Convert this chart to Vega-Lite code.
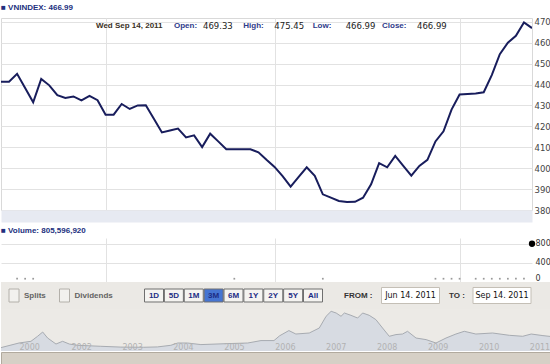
{
  "$schema": "https://vega.github.io/schema/vega-lite/v6.json",
  "background": "white",
  "padding": {"left": 0, "top": 3, "right": 0, "bottom": 0},
  "config": {"view": {"stroke": null}, "font": "DejaVu Sans", "axis": {"labelOverlap": false}},
  "datasets": {
    "prices": [
      {"date": "2011-06-13", "close": 441.3}, {"date": "2011-06-14", "close": 441.3}, {"date": "2011-06-15", "close": 445.1},
      {"date": "2011-06-16", "close": 438.3}, {"date": "2011-06-17", "close": 431.5}, {"date": "2011-06-20", "close": 442.7},
      {"date": "2011-06-21", "close": 439.6}, {"date": "2011-06-22", "close": 434.9}, {"date": "2011-06-23", "close": 433.6},
      {"date": "2011-06-24", "close": 434.3}, {"date": "2011-06-27", "close": 432.4}, {"date": "2011-06-28", "close": 434.6},
      {"date": "2011-06-29", "close": 432.5}, {"date": "2011-06-30", "close": 425.6}, {"date": "2011-07-01", "close": 425.6},
      {"date": "2011-07-04", "close": 430.7}, {"date": "2011-07-05", "close": 428.3}, {"date": "2011-07-06", "close": 430.0},
      {"date": "2011-07-07", "close": 430.1}, {"date": "2011-07-08", "close": 423.6}, {"date": "2011-07-11", "close": 417.1},
      {"date": "2011-07-12", "close": 418.0}, {"date": "2011-07-13", "close": 418.9}, {"date": "2011-07-14", "close": 414.7},
      {"date": "2011-07-15", "close": 415.7}, {"date": "2011-07-18", "close": 410.1}, {"date": "2011-07-19", "close": 416.5},
      {"date": "2011-07-20", "close": 412.8}, {"date": "2011-07-21", "close": 409.1}, {"date": "2011-07-22", "close": 409.1},
      {"date": "2011-07-25", "close": 409.1}, {"date": "2011-07-26", "close": 409.0}, {"date": "2011-07-27", "close": 407.6},
      {"date": "2011-07-28", "close": 404.0}, {"date": "2011-07-29", "close": 400.6}, {"date": "2011-08-01", "close": 396.2},
      {"date": "2011-08-02", "close": 391.2}, {"date": "2011-08-03", "close": 395.8}, {"date": "2011-08-04", "close": 400.4},
      {"date": "2011-08-05", "close": 396.3}, {"date": "2011-08-08", "close": 387.5}, {"date": "2011-08-09", "close": 385.9},
      {"date": "2011-08-10", "close": 384.3}, {"date": "2011-08-11", "close": 383.8}, {"date": "2011-08-12", "close": 383.9},
      {"date": "2011-08-15", "close": 385.9}, {"date": "2011-08-16", "close": 392.3}, {"date": "2011-08-17", "close": 402.4},
      {"date": "2011-08-18", "close": 400.4}, {"date": "2011-08-19", "close": 405.9}, {"date": "2011-08-22", "close": 401.1},
      {"date": "2011-08-23", "close": 396.4}, {"date": "2011-08-24", "close": 401.1}, {"date": "2011-08-25", "close": 404.0},
      {"date": "2011-08-26", "close": 412.8}, {"date": "2011-08-29", "close": 417.6}, {"date": "2011-08-30", "close": 428.0},
      {"date": "2011-08-31", "close": 435.2}, {"date": "2011-09-01", "close": 435.5}, {"date": "2011-09-05", "close": 435.7},
      {"date": "2011-09-06", "close": 436.3}, {"date": "2011-09-07", "close": 444.5}, {"date": "2011-09-08", "close": 454.5},
      {"date": "2011-09-09", "close": 460.0}, {"date": "2011-09-12", "close": 463.3}, {"date": "2011-09-13", "close": 469.7},
      {"date": "2011-09-14", "close": 466.99}
    ],
    "vol": [
      {"date": "2011-06-15", "volume": 69000000}, {"date": "2011-06-16", "volume": 69000000}, {"date": "2011-06-17", "volume": 69000000},
      {"date": "2011-07-22", "volume": 69000000}, {"date": "2011-08-08", "volume": 69000000},
      {"date": "2011-08-26", "volume": 69000000}, {"date": "2011-08-29", "volume": 69000000}, {"date": "2011-08-30", "volume": 69000000},
      {"date": "2011-08-31", "volume": 69000000}, {"date": "2011-09-05", "volume": 69000000}, {"date": "2011-09-06", "volume": 69000000},
      {"date": "2011-09-07", "volume": 69000000}, {"date": "2011-09-08", "volume": 69000000}, {"date": "2011-09-09", "volume": 69000000},
      {"date": "2011-09-12", "volume": 69000000}, {"date": "2011-09-13", "volume": 69000000},
      {"date": "2011-09-14", "volume": 805596920}
    ],
    "info": [
      {"k": "date", "label": "Wed Sep 14, 2011", "val": ""},
      {"k": "Open", "label": "Open:", "val": "469.33"},
      {"k": "High", "label": "High:", "val": "475.45"},
      {"k": "Low", "label": "Low:", "val": "466.99"},
      {"k": "Close", "label": "Close:", "val": "466.99"}
    ],
    "checks": [{"name": "Splits"}, {"name": "Dividends"}],
    "buttons": [
      {"b": "1D", "on": false}, {"b": "5D", "on": false}, {"b": "1M", "on": false}, {"b": "3M", "on": true},
      {"b": "6M", "on": false}, {"b": "1Y", "on": false}, {"b": "2Y", "on": false}, {"b": "5Y", "on": false}, {"b": "All", "on": false}
    ],
    "rangeLabels": [{"t": "FROM :"}, {"t": "TO :"}],
    "rangeDates": [{"d": "Jun 14. 2011"}, {"d": "Sep 14. 2011"}],
    "history": [
      {"date": "2000-07-28", "index": 100}, {"date": "2000-12-13", "index": 236}, {"date": "2001-03-15", "index": 286},
      {"date": "2001-05-05", "index": 434}, {"date": "2001-06-13", "index": 560}, {"date": "2001-07-21", "index": 383},
      {"date": "2001-09-23", "index": 206}, {"date": "2001-11-13", "index": 286}, {"date": "2002-01-03", "index": 206},
      {"date": "2002-03-03", "index": 168}, {"date": "2002-08-17", "index": 139}, {"date": "2003-01-08", "index": 115},
      {"date": "2003-06-21", "index": 110}, {"date": "2003-09-27", "index": 120}, {"date": "2004-01-01", "index": 168},
      {"date": "2004-02-20", "index": 236}, {"date": "2004-04-29", "index": 236}, {"date": "2004-08-04", "index": 189},
      {"date": "2005-02-14", "index": 218}, {"date": "2005-07-06", "index": 236}, {"date": "2005-10-09", "index": 307},
      {"date": "2006-01-10", "index": 307}, {"date": "2006-02-20", "index": 450}, {"date": "2006-04-27", "index": 602},
      {"date": "2006-06-16", "index": 501}, {"date": "2006-09-20", "index": 531}, {"date": "2006-12-01", "index": 678},
      {"date": "2007-01-19", "index": 1024}, {"date": "2007-02-24", "index": 1171}, {"date": "2007-04-01", "index": 1121},
      {"date": "2007-05-06", "index": 1024}, {"date": "2007-05-30", "index": 1121}, {"date": "2007-07-16", "index": 1053},
      {"date": "2007-09-02", "index": 973}, {"date": "2007-10-08", "index": 1121}, {"date": "2007-11-24", "index": 1053},
      {"date": "2008-01-11", "index": 926}, {"date": "2008-02-28", "index": 678}, {"date": "2008-04-16", "index": 434},
      {"date": "2008-06-03", "index": 484}, {"date": "2008-07-20", "index": 501}, {"date": "2008-08-25", "index": 581},
      {"date": "2008-10-25", "index": 383}, {"date": "2009-01-05", "index": 336}, {"date": "2009-03-17", "index": 236},
      {"date": "2009-05-28", "index": 383}, {"date": "2009-08-07", "index": 501}, {"date": "2009-10-06", "index": 581},
      {"date": "2009-12-28", "index": 501}, {"date": "2010-04-27", "index": 531}, {"date": "2010-08-25", "index": 463},
      {"date": "2010-11-29", "index": 434}, {"date": "2011-01-29", "index": 501}, {"date": "2011-04-23", "index": 454},
      {"date": "2011-06-14", "index": 430}, {"date": "2011-09-14", "index": 467}
    ]
  },
  "spacing": 5,
  "vconcat": [
    {
      "width": 531,
      "height": 192,
      "title": {"text": "■ VNINDEX: 466.99", "anchor": "start", "font": "Liberation Sans", "fontSize": 8, "fontWeight": "bold", "color": "#22307e", "offset": 6},
      "view": {"stroke": "#d9d9d9"},
      "layer": [
        {
          "data": {"name": "prices"},
          "mark": {"type": "line", "color": "#181d5c", "strokeWidth": 2, "clip": true},
          "encoding": {
            "x": {
              "field": "date", "type": "ordinal", "scale": {"type": "point", "padding": 0},
              "axis": {
                "values": ["2011-07-01", "2011-08-01", "2011-09-01"],
                "labelExpr": "datum.value == '2011-07-01' ? '2011' : datum.value == '2011-08-01' ? 'Aug' : 'Sep'",
                "grid": true, "gridColor": "#e2e2e2", "ticks": false, "tickSize": 0,
                "domain": true, "domainColor": "#e7eaf2", "domainWidth": 12, "offset": 6,
                "tickOffset": -7.5, "labelAlign": "left", "labelBaseline": "middle", "labelPadding": 1.5, "labelOffset": 1,
                "labelAngle": 0, "labelFont": "DejaVu Sans", "labelFontSize": 7.5, "labelFontWeight": "bold", "labelColor": "#333333",
                "labelOverlap": false, "title": null
              }
            },
            "y": {
              "field": "close", "type": "quantitative", "scale": {"domain": [380, 471.8], "nice": false, "zero": false},
              "axis": {
                "orient": "right", "values": [380, 390, 400, 410, 420, 430, 440, 450, 460, 470], "tickCount": 20,
                "grid": true, "gridColor": "#e2e2e2", "ticks": false, "domain": false, "labelPadding": 2,
                "labelOverlap": false, "labelBound": false,
                "labelFont": "DejaVu Sans", "labelFontSize": 8.5, "labelColor": "#444444", "title": null
              }
            }
          }
        },
        {
          "data": {"name": "info"},
          "transform": [{"filter": "datum.k == 'date'"}],
          "mark": {"type": "text", "align": "left", "baseline": "middle", "font": "Liberation Sans", "fontSize": 8, "fontWeight": "bold", "color": "#3a3024"},
          "encoding": {
            "x": {"field": "k", "type": "nominal", "scale": {"type": "point", "padding": 0, "range": [95, 95]}, "axis": null},
            "y": {"datum": 468.2},
            "text": {"field": "label"}
          }
        },
        {
          "data": {"name": "info"},
          "transform": [{"filter": "datum.k != 'date'"}],
          "mark": {"type": "text", "align": "left", "baseline": "middle", "font": "Liberation Sans", "fontSize": 8, "fontWeight": "bold", "color": "#2e3b8a"},
          "encoding": {
            "x": {"field": "k", "type": "nominal", "sort": null, "scale": {"type": "point", "padding": 0, "range": [173, 381]}, "axis": null},
            "y": {"datum": 468.2},
            "text": {"field": "label"}
          }
        },
        {
          "data": {"name": "info"},
          "transform": [{"filter": "datum.k != 'date'"}],
          "mark": {"type": "text", "align": "left", "baseline": "middle", "font": "DejaVu Sans", "fontSize": 8.5, "color": "#222222"},
          "encoding": {
            "x": {"field": "k", "type": "nominal", "sort": null, "scale": {"type": "point", "padding": 0, "range": [202, 416]}, "axis": null},
            "y": {"datum": 468.2},
            "text": {"field": "val"}
          }
        }
      ],
      "resolve": {"scale": {"x": "independent"}}
    },
    {
      "spacing": 0,
      "vconcat": [
        {
          "width": 531,
          "height": 44,
          "title": {"text": "■ Volume: 805,596,920", "anchor": "start", "font": "Liberation Sans", "fontSize": 8, "fontWeight": "bold", "color": "#22307e", "offset": 3},
          "layer": [
            {
              "data": {"name": "prices"},
              "mark": {"type": "rule", "opacity": 0},
              "encoding": {
                "x": {
                  "field": "date", "type": "ordinal", "scale": {"type": "point", "padding": 0},
                  "axis": {
                    "values": ["2011-07-01", "2011-08-01", "2011-09-01"], "grid": true, "gridColor": "#e2e2e2",
                    "labels": false, "ticks": false, "domain": false, "tickOffset": -7.5, "title": null
                  }
                }
              }
            },
            {
              "data": {"name": "vol"},
              "transform": [{"filter": "datum.volume < 500000000"}],
              "mark": {"type": "square", "size": 3, "color": "#9a9a9a", "opacity": 1},
              "encoding": {
                "x": {"field": "date", "type": "ordinal"},
                "y": {
                  "field": "volume", "type": "quantitative", "scale": {"domain": [0, 926000000], "nice": false},
                  "axis": {
                    "orient": "right", "values": [0, 400000000, 800000000], "tickCount": 10, "labelExpr": "format(datum.value / 1000000, 'd')",
                    "grid": true, "gridColor": "#e2e2e2", "ticks": false, "domain": false, "labelFlush": true, "labelPadding": 3,
                    "labelOverlap": false, "labelBound": false,
                    "labelFont": "DejaVu Sans", "labelFontSize": 8, "labelColor": "#333333", "title": null
                  }
                }
              }
            },
            {
              "data": {"name": "vol"},
              "transform": [{"filter": "datum.volume >= 500000000"}],
              "mark": {"type": "circle", "size": 40, "color": "#000000", "opacity": 1},
              "encoding": {
                "x": {"field": "date", "type": "ordinal"},
                "y": {"field": "volume", "type": "quantitative"}
              }
            }
          ]
        },
        {
          "width": 550,
          "height": 27,
          "view": {"fill": "#ebe9e5", "stroke": null},
          "layer": [
            {
              "data": {"name": "checks"},
              "encoding": {"x": {"field": "name", "type": "nominal", "sort": null, "scale": {"type": "point", "padding": 0, "range": [13, 63.5]}, "axis": null}},
              "layer": [
                {"mark": {"type": "point", "shape": "M-1,-1.3H1V1.3H-1Z", "size": 100, "filled": true, "fill": "#f2f1ee", "stroke": "#b3b0aa", "strokeWidth": 1, "opacity": 1}},
                {"mark": {"type": "text", "align": "left", "baseline": "middle", "dx": 10, "font": "Liberation Sans", "fontSize": 8, "fontWeight": "bold", "color": "#636363"}, "encoding": {"text": {"field": "name"}}}
              ]
            },
            {
              "data": {"name": "buttons"},
              "encoding": {"x": {"field": "b", "type": "nominal", "sort": null, "scale": {"type": "point", "padding": 0, "range": [153, 312]}, "axis": null}},
              "layer": [
                {
                  "mark": {"type": "point", "shape": "M-1,-0.684H1V0.684H-1Z", "size": 361, "filled": true, "strokeWidth": 1, "opacity": 1},
                  "encoding": {
                    "fill": {"condition": {"test": "datum.on", "value": "#4675d2"}, "value": "#f5f4f1"},
                    "stroke": {"value": "#6f6f6f"}
                  }
                },
                {"mark": {"type": "text", "align": "center", "baseline": "middle", "font": "Liberation Sans", "fontSize": 8, "fontWeight": "bold", "color": "#1d2d85"}, "encoding": {"text": {"field": "b"}}}
              ]
            },
            {
              "data": {"name": "rangeLabels"},
              "mark": {"type": "text", "align": "left", "baseline": "middle", "font": "Liberation Sans", "fontSize": 8, "fontWeight": "bold", "color": "#333333"},
              "encoding": {
                "x": {"field": "t", "type": "nominal", "sort": null, "scale": {"type": "point", "padding": 0, "range": [343, 448]}, "axis": null},
                "text": {"field": "t"}
              }
            },
            {
              "data": {"name": "rangeDates"},
              "encoding": {"x": {"field": "d", "type": "nominal", "sort": null, "scale": {"type": "point", "padding": 0, "range": [409.5, 501]}, "axis": null}},
              "layer": [
                {"mark": {"type": "point", "shape": "M-1,-0.276H1V0.276H-1Z", "size": 3364, "filled": true, "fill": "#ffffff", "stroke": "#c4bfb6", "strokeWidth": 1, "opacity": 1}},
                {"mark": {"type": "text", "align": "center", "baseline": "middle", "font": "DejaVu Sans", "fontSize": 8, "color": "#111111"}, "encoding": {"text": {"field": "d"}}}
              ]
            }
          ],
          "resolve": {"scale": {"x": "independent"}}
        },
        {
          "width": 550,
          "height": 42,
          "view": {"fill": "#eceae6", "stroke": null},
          "data": {"name": "history"},
          "mark": {"type": "area", "color": "#d7dbe2", "opacity": 1, "clip": true, "line": {"color": "#a7abb1", "strokeWidth": 1}},
          "encoding": {
            "x": {
              "field": "date", "type": "temporal",
              "scale": {
                "type": "utc",
                "domain": {"expr": "[datetime(utc(2000, 6, 28)), datetime(utc(2002, 0, 1)), datetime(utc(2011, 8, 14))]"},
                "range": [0, 68, 562]
              },
              "axis": {
                "values": [
                  {"year": 2000, "month": 11, "date": 28, "utc": true},
                  {"year": 2002, "month": 1, "date": 1, "utc": true},
                  {"year": 2003, "month": 1, "date": 1, "utc": true},
                  {"year": 2004, "month": 1, "date": 1, "utc": true},
                  {"year": 2005, "month": 1, "date": 1, "utc": true},
                  {"year": 2006, "month": 1, "date": 1, "utc": true},
                  {"year": 2007, "month": 1, "date": 1, "utc": true},
                  {"year": 2008, "month": 1, "date": 1, "utc": true},
                  {"year": 2009, "month": 1, "date": 1, "utc": true},
                  {"year": 2010, "month": 1, "date": 1, "utc": true},
                  {"year": 2011, "month": 1, "date": 1, "utc": true}
                ],
                "tickCount": 30,
                "labelExpr": "utcFormat(datum.value, '%Y')",
                "grid": false, "ticks": false, "tickSize": 0, "domain": false, "zindex": 1,
                "labelAlign": "left", "labelBaseline": "alphabetic", "labelPadding": -2, "labelOffset": 2,
                "labelFlush": false, "labelOverlap": false, "labelAngle": 0, "labelBound": false,
                "labelFont": "DejaVu Sans", "labelFontSize": 8, "labelColor": "#b2b2b2", "title": null
              }
            },
            "y": {"field": "index", "type": "quantitative", "scale": {"domain": [0, 1239], "nice": false}, "axis": null}
          }
        },
        {
          "width": 550,
          "height": 14,
          "view": {"fill": "#d6d0c6", "stroke": "#b1aa9e"},
          "data": {"values": [{}]},
          "mark": {"type": "rule", "opacity": 0},
          "encoding": {}
        }
      ]
    }
  ]
}
